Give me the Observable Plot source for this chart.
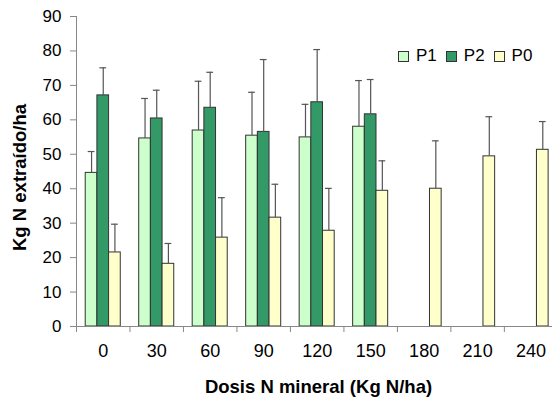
<!DOCTYPE html>
<html>
<head>
<meta charset="utf-8">
<script src="https://cdn.jsdelivr.net/npm/d3@7"></script>
<script src="https://cdn.jsdelivr.net/npm/@observablehq/plot@0.6"></script>
<style>
  html, body { margin: 0; padding: 0; background: #fff; }
  #wrap { position: relative; width: 552px; height: 403px; font-family: "Liberation Sans", Arial, sans-serif; }
  #legend { position: absolute; left: 398px; top: 46px; display: flex; align-items: center; font-size: 17px; color: #000; }
  #legend .item { display: flex; align-items: center; margin-right: 9px; }
  #legend .sw { width: 9px; height: 9px; border: 1px solid #333; margin-right: 7px; }
</style>
</head>
<body>
<div id="wrap"><div id="legend"></div></div>
<script>
// Data
const doses = [0, 30, 60, 90, 120, 150, 180, 210, 240];
const seriesNames = ["P1", "P2", "P0"];
const seriesColors = ["#ccffcc", "#339966", "#ffffcc"];
const p1 = [44.6, 54.6, 56.9, 55.4, 54.9, 58.0, null, null, null];
const p1Err = [50.8, 66.2, 71.2, 68.0, 64.5, 71.4, null, null, null];
const p2 = [67.1, 60.4, 63.5, 56.5, 65.1, 61.6, null, null, null];
const p2Err = [75.1, 68.6, 73.8, 77.5, 80.4, 71.7, null, null, null];
const p0 = [21.5, 18.2, 25.8, 31.6, 27.8, 39.4, 40.0, 49.4, 51.3];
const p0Err = [29.7, 24.1, 37.4, 41.3, 40.1, 48.1, 53.9, 60.9, 59.5];
const yTicks = [0, 10, 20, 30, 40, 50, 60, 70, 80, 90];
const xTitle = "Dosis N mineral (Kg N/ha)";
const yTitle = "Kg N extraído/ha";

const step = 30;          // dose spacing (band width in data units)
const groupFrac = 0.655;  // fraction of band used by the bar group
const barW = step * groupFrac / 3;

const values = [p1, p2, p0];
const errs = [p1Err, p2Err, p0Err];
const rows = [];
seriesNames.forEach((s, i) => {
  doses.forEach((d, j) => {
    if (values[i][j] == null) return;
    const x1 = d - step * groupFrac / 2 + i * barW;
    rows.push({series: s, dose: d, value: values[i][j], err: errs[i][j], x1, x2: x1 + barW, xc: x1 + barW / 2});
  });
});
const boundaries = doses.map(d => d - step / 2);

const chart = Plot.plot({
  width: 552,
  height: 403,
  marginLeft: 76,
  marginRight: 0,
  marginTop: 16,
  marginBottom: 77,
  style: {fontFamily: "'Liberation Sans', Arial, sans-serif", fontSize: "17px", color: "#000", background: "#fff"},
  x: {domain: [-15, 252]},
  y: {domain: [0, 90]},
  color: {domain: seriesNames, range: seriesColors},
  marks: [
    Plot.rect(rows, {x1: "x1", x2: "x2", y1: 0, y2: "value", fill: "series", stroke: "#333", strokeWidth: 1}),
    Plot.ruleX(rows, {x: "xc", y1: "value", y2: "err", stroke: "#555", strokeWidth: 1.2}),
    Plot.ruleY(rows, {y: "err", x1: d => d.xc - 1.9, x2: d => d.xc + 1.9, stroke: "#555", strokeWidth: 1.2}),
    Plot.ruleX([-15], {stroke: "#888"}),
    Plot.ruleY([0], {stroke: "#888"}),
    Plot.axisY({ticks: yTicks, tickSize: 6, tickPadding: 9, stroke: "#888", label: null, fontSize: 17}),
    Plot.text([yTitle], {frameAnchor: "left", textAnchor: "middle", dx: -56, dy: 6, rotate: -90, fontWeight: "bold", fontSize: 18.5, fill: "#000"}),
    Plot.axisX({ticks: boundaries, tickSize: 6, tickFormat: () => "", stroke: "#888", label: null}),
    Plot.axisX({ticks: doses, tickSize: 0, tickPadding: 18, label: null, fontSize: 18}),
    Plot.text([xTitle], {frameAnchor: "bottom", dy: 66, dx: 4, fontWeight: "bold", fontSize: 18.5, fill: "#000"})
  ]
});
document.getElementById("wrap").prepend(chart);

const legend = document.getElementById("legend");
seriesNames.forEach((s, i) => {
  const item = document.createElement("div");
  item.className = "item";
  const sw = document.createElement("div");
  sw.className = "sw";
  sw.style.background = seriesColors[i];
  const t = document.createElement("span");
  t.textContent = s;
  item.append(sw, t);
  legend.append(item);
});
</script>
</body>
</html>
